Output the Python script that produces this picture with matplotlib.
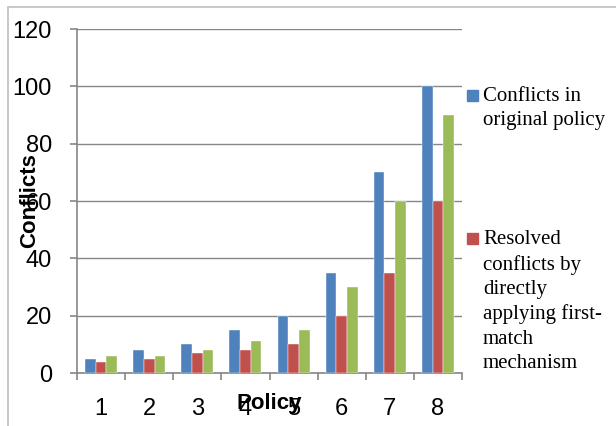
import matplotlib
matplotlib.use('Agg')
import matplotlib.pyplot as plt
from matplotlib.patches import Rectangle
import numpy as np

policies = ['1', '2', '3', '4', '5', '6', '7', '8']
original = [5, 8, 10, 15, 20, 35, 70, 100]
resolved_direct = [4, 5, 7, 8, 10, 20, 35, 60]
third_series = [6, 6, 8, 11, 15, 30, 60, 90]
legend_labels = ['Conflicts in\noriginal policy',
                 'Resolved\nconflicts by\ndirectly\napplying first-\nmatch\nmechanism']
colors = ['#4F81BD', '#C0504D', '#9BBB59']

W, H = 616, 426
fig = plt.figure(figsize=(W / 100, H / 100), dpi=100)
ax = fig.add_axes([77 / W, 1 - 373 / H, 385 / W, 344 / H])

# outer chart frame (only top/left visible)
fig.patches.append(Rectangle((8 / W, -0.1), 1.2, 1 - 7 / H + 0.1, transform=fig.transFigure,
                             fill=False, edgecolor='#BFBFBF', linewidth=1.2))

x = np.arange(len(policies))
bw = 0.222
for i, vals in enumerate([original, resolved_direct, third_series]):
    ax.bar(x + (i - 1) * bw, vals, bw, color=colors[i], edgecolor='white', linewidth=0.3, zorder=3)

ax.set_xlim(-0.5, 7.5)
ax.set_ylim(0, 120)
ax.set_yticks(range(0, 121, 20))
ax.set_xticks(x)
ax.set_xticklabels(policies)
ax.set_xticks(np.arange(-0.5, 8, 1), minor=True)
ax.grid(axis='y', color='#868686', linewidth=1, zorder=0)

for s in ['top', 'right']:
    ax.spines[s].set_visible(False)
for s in ['left', 'bottom']:
    ax.spines[s].set_color('#868686')
    ax.spines[s].set_linewidth(1.2)

ax.tick_params(axis='x', which='major', length=0, pad=18, labelsize=17)
ax.tick_params(axis='x', which='minor', length=5, color='#868686', width=1.2)
ax.tick_params(axis='y', length=5, color='#868686', width=1.2, pad=13, labelsize=17)
for lab in ax.get_xticklabels() + ax.get_yticklabels():
    lab.set_family('Liberation Sans')

ax.set_ylabel('Conflicts', fontsize=16, fontweight='bold', family='Liberation Sans')
ax.yaxis.set_label_coords(-0.096, 0.5)
ax.set_xlabel('Policy', fontsize=16, fontweight='bold', family='Liberation Sans')
ax.xaxis.set_label_coords(0.5, -0.058)

# legend (only two entries visible in the original)
entries = [(legend_labels[0], colors[0], 90), (legend_labels[1], colors[1], 233)]
for text, col, ytop in entries:
    fig.patches.append(Rectangle((467 / W, 1 - (ytop + 11) / H), 11 / W, 11 / H,
                                 transform=fig.transFigure, color=col))
    fig.text(483 / W, 1 - (ytop - 3) / H, text, family='Liberation Serif', fontsize=15,
             va='top', ha='left', linespacing=1.38)

fig.savefig('out.png', dpi=100)
